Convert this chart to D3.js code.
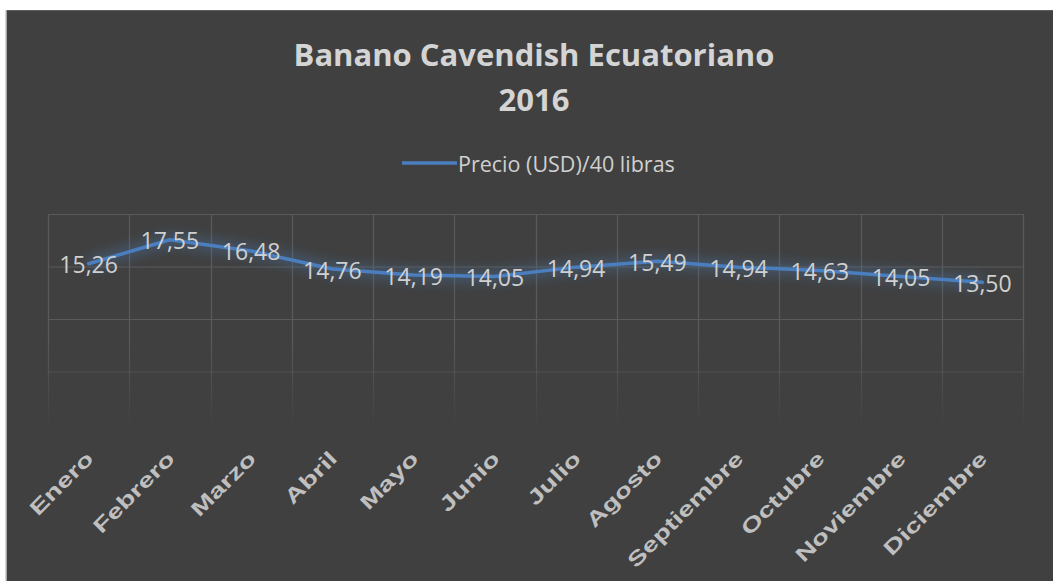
<!DOCTYPE html>
<html><head><meta charset="utf-8">
<script src="https://cdn.jsdelivr.net/npm/d3@7"></script>
<style>html,body{margin:0;padding:0;background:#fff;}svg{display:block;}</style>
</head><body>
<svg id="chart" width="1053" height="581"></svg>
<script>
const titleLines = ["Banano Cavendish Ecuatoriano", "2016"];
const seriesName = "Precio (USD)/40 libras";
const months = ["Enero","Febrero","Marzo","Abril","Mayo","Junio","Julio","Agosto","Septiembre","Octubre","Noviembre","Diciembre"];
const prices = [15.26, 17.55, 16.48, 14.76, 14.19, 14.05, 14.94, 15.49, 14.94, 14.63, 14.05, 13.50];
const yTicks = [0, 5, 10, 15, 20];

const svg = d3.select("#chart");
const W = 1053, H = 581;
const plot = {left: 48, right: 1023, top: 214, bottom: 424};

const defs = svg.append("defs");
const glow = defs.append("filter").attr("id","glow").attr("x","-10%").attr("y","-50%").attr("width","120%").attr("height","200%");
glow.append("feGaussianBlur").attr("stdDeviation", 6);
const fade = defs.append("linearGradient").attr("id","fade").attr("gradientUnits","userSpaceOnUse")
  .attr("x1",0).attr("x2",0).attr("y1",340).attr("y2",428);
fade.append("stop").attr("offset",0).attr("stop-color","#5a5a5a").attr("stop-opacity",1);
fade.append("stop").attr("offset",1).attr("stop-color","#5a5a5a").attr("stop-opacity",0);

// background
svg.append("rect").attr("x",6).attr("y",10).attr("width",W).attr("height",H).attr("fill","#404040");
svg.append("line").attr("x1",6).attr("x2",W).attr("y1",10.5).attr("y2",10.5).attr("stroke","#5e5e5e").attr("stroke-width",1);
svg.append("line").attr("x1",6).attr("x2",6).attr("y1",10).attr("y2",H).attr("stroke","#c8c8c8").attr("stroke-width",1.5);

const x = d3.scaleBand().domain(months).range([plot.left, plot.right]);
const y = d3.scaleLinear().domain([0, 20]).range([plot.bottom, plot.top]);

// gridlines
const grid = svg.append("g").attr("stroke","url(#fade)").attr("stroke-width",1.2);
grid.selectAll("line.h").data(yTicks).join("line").attr("class","h")
  .attr("x1",plot.left).attr("x2",plot.right)
  .attr("y1",d=>y(d)+0.5).attr("y2",d=>y(d)+0.5)
  .attr("stroke", d => y(d) < 340 ? "#5a5a5a" : null);
const bounds = months.map(m => x(m)).concat([x(months[months.length-1]) + x.bandwidth()]);
grid.selectAll("line.v").data(bounds).join("line").attr("class","v")
  .attr("x1",d=>Math.round(d)+0.5).attr("x2",d=>Math.round(d)+0.5)
  .attr("y1",plot.top).attr("y2",plot.bottom);
svg.append("line").attr("x1",plot.left).attr("x2",plot.right).attr("y1",plot.top+0.5).attr("y2",plot.top+0.5)
  .attr("stroke","#5a5a5a").attr("stroke-width",1.2);

// line
const line = d3.line().x((d,i)=>x(months[i]) + x.bandwidth()/2).y(d=>y(d));
svg.append("path").datum(prices).attr("d",line).attr("fill","none")
  .attr("stroke","#4a7ebe").attr("stroke-width",12).attr("stroke-opacity",0.35)
  .attr("filter","url(#glow)").attr("stroke-linejoin","round");
svg.append("path").datum(prices).attr("d",line).attr("fill","none")
  .attr("stroke","#4a7ebe").attr("stroke-width",3.5).attr("stroke-linejoin","round").attr("stroke-linecap","round");

// data labels
svg.append("g").selectAll("text").data(prices).join("text")
  .attr("x",(d,i)=>x(months[i]) + x.bandwidth()/2)
  .attr("y",d=>y(d)+0.5)
  .attr("text-anchor","middle").attr("dominant-baseline","central")
  .attr("font-family","'Open Sans', sans-serif").attr("font-size",23)
  .attr("fill","#d0d0d0")
  .text(d=>d.toFixed(2).replace(".", ","));

// x labels
svg.append("g").selectAll("text").data(months).join("text")
  .attr("transform",m=>`translate(${x(m)+x.bandwidth()/2+6},${plot.bottom+36}) rotate(-45) scale(1.38,1)`)
  .attr("text-anchor","end")
  .attr("font-family","'Liberation Sans', Arial, sans-serif").attr("font-weight","bold").attr("font-size",20.5)
  .attr("fill","#bfbfbf")
  .text(m=>m);

// title
svg.append("g").selectAll("text").data(titleLines).join("text")
  .attr("x",534).attr("y",(d,i)=>66 + i*45)
  .attr("text-anchor","middle")
  .attr("font-family","'Open Sans', sans-serif").attr("font-weight","bold").attr("font-size",31)
  .attr("fill","#d4d4d4")
  .text(d=>d);

// legend
const lg = svg.append("g").attr("transform","translate(402,163)");
lg.append("line").attr("x1",0).attr("x2",55).attr("y1",0).attr("y2",0).attr("stroke","#4a7ebe").attr("stroke-width",3.5);
lg.append("text").attr("x",56).attr("y",0).attr("dominant-baseline","central")
  .attr("font-family","'Open Sans', sans-serif").attr("font-size",21.5).attr("fill","#d0d0d0")
  .text(seriesName);
</script>
</body></html>
